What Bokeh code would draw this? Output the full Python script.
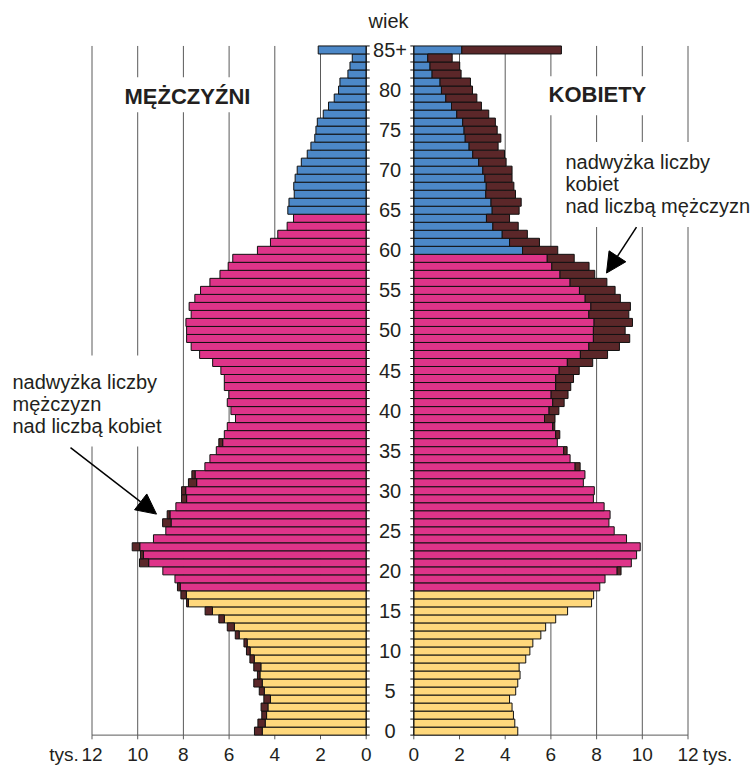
import numpy as np
from bokeh.plotting import figure
from bokeh.models import (ColumnDataSource, FixedTicker, CustomJSTickFormatter, Label,
                          Arrow, NormalHead, Range1d)
from bokeh.core.properties import value
from bokeh.embed import file_html
from bokeh.resources import INLINE

# ---------------- data (thousands of persons, age 0 .. 85+) ----------------
ages = list(range(86))
age_tick_values = [0, 5, 10, 15, 20, 25, 30, 35, 40, 45, 50, 55, 60, 65, 70, 75, 80, 85]
age_tick_labels = ["0", "5", "10", "15", "20", "25", "30", "35", "40", "45", "50", "55",
                   "60", "65", "70", "75", "80", "85+"]

men = [4.89, 4.74, 4.57, 4.60, 4.48, 4.68, 4.92, 4.76, 4.92, 5.09,
       5.24, 5.35, 5.73, 6.08, 6.45, 7.05, 7.86, 8.11, 8.26, 8.37,
       8.90, 9.92, 9.88, 10.24, 9.31, 8.77, 8.91, 8.71, 8.33, 8.08,
       8.08, 7.78, 7.63, 7.06, 6.84, 6.56, 6.45, 6.21, 6.08, 5.72,
       5.92, 6.08, 6.01, 6.21, 6.21, 6.36, 6.72, 7.29, 7.66, 7.86,
       7.86, 7.89, 7.66, 7.75, 7.50, 7.25, 6.84, 6.40, 6.04, 5.84,
       4.76, 4.19, 3.87, 3.46, 3.18, 3.43, 3.38, 3.15, 3.17, 3.11,
       3.02, 2.84, 2.58, 2.42, 2.25, 2.20, 2.14, 1.88, 1.65, 1.40,
       1.21, 1.15, 0.80, 0.71, 0.61, 2.10]

women = [4.55, 4.42, 4.36, 4.30, 4.19, 4.46, 4.55, 4.65, 4.61, 4.90,
         5.08, 5.21, 5.56, 5.77, 6.21, 6.73, 7.78, 7.87, 8.14, 8.37,
         9.07, 9.52, 9.75, 9.91, 9.31, 8.77, 8.54, 8.59, 8.33, 7.86,
         7.90, 7.42, 7.49, 7.28, 6.84, 6.71, 6.28, 6.39, 6.17, 6.18,
         6.35, 6.58, 6.75, 6.87, 6.99, 7.24, 7.83, 8.48, 9.00, 9.45,
         9.25, 9.57, 9.41, 9.48, 9.04, 8.81, 8.45, 7.92, 7.67, 7.02,
         6.30, 5.50, 4.97, 4.57, 4.19, 4.61, 4.70, 4.45, 4.38, 4.30,
         4.30, 4.04, 3.97, 3.69, 3.81, 3.65, 3.57, 3.28, 2.96, 2.76,
         2.57, 2.48, 2.07, 2.01, 1.68, 6.46]

x_tick_values = [0, 2, 4, 6, 8, 10, 12]
unit_label = "tys."
youth_max_age = 17
men_retire_age = 65
women_retire_age = 60

# ---------------- styling / layout ----------------
YELLOW = "#FFD87C"
PINK = "#DE3489"
BLUE = "#4C88C8"
BROWN = "#5B2729"
GRID = "#5a5a5a"
EDGE = "#111111"
TXT = "#231f20"
FONT = "Liberation Sans"

W, HGT = 755, 767
PX = 22.85            # pixels per thousand
CX = 389.5            # page x of the centre of the age column
H = 23.8 / PX         # half of the central gap, in data units
S = 8.035             # pixels per year of age
BOTTOM = 26
FRAME_H = HGT - BOTTOM
AXIS_Y = 736.6        # page y of the base line
Y0 = -0.5 - (FRAME_H - AXIS_Y) / S
Y1 = Y0 + FRAME_H / S


def dx(page_x):
    return (page_x - CX) / PX


def dy(page_y):
    return Y1 - page_y / S


p = figure(width=W, height=HGT, output_backend="svg", toolbar_location=None,
           x_range=Range1d(dx(0), dx(W)), y_range=Range1d(Y0, Y1),
           y_axis_location=None, min_border_left=0, min_border_right=0,
           min_border_top=0, min_border_bottom=BOTTOM)
p.outline_line_color = None
p.grid.visible = False
p.background_fill_color = "white"

a = np.array(ages)
m = np.array(men)
w = np.array(women)
lo = np.minimum(m, w)

# vertical grid lines
gx = [-(H + t) for t in x_tick_values[1:]] + [H + t for t in x_tick_values[1:]]
p.segment(x0=gx, x1=gx, y0=[-0.5] * len(gx), y1=[85.5] * len(gx),
          line_color=GRID, line_width=1)

# axis base lines and their ticks
p.segment(x0=[-(H + 12), H], x1=[-H, H + 12], y0=[-0.5, -0.5], y1=[-0.5, -0.5],
          line_color=GRID, line_width=1)
tx = [-(H + t) for t in x_tick_values] + [H + t for t in x_tick_values]
p.segment(x0=tx, x1=tx, y0=[-0.5] * len(tx), y1=[-0.5 - 4.5 / S] * len(tx),
          line_color=GRID, line_width=1)

# bars
men_col = [YELLOW if v <= youth_max_age else PINK if v < men_retire_age else BLUE for v in ages]
wom_col = [YELLOW if v <= youth_max_age else PINK if v < women_retire_age else BLUE for v in ages]

src_mc = ColumnDataSource(dict(y=a, left=-(H + lo), right=np.full(len(a), -H), color=men_col))
src_wc = ColumnDataSource(dict(y=a, left=np.full(len(a), H), right=H + lo, color=wom_col))
mm = m > w
wm = w > m
src_mb = ColumnDataSource(dict(y=a[mm], left=-(H + m[mm]), right=-(H + lo[mm])))
src_wb = ColumnDataSource(dict(y=a[wm], left=H + lo[wm], right=H + w[wm]))

for src in (src_mc, src_wc):
    p.hbar(y="y", left="left", right="right", height=1, fill_color="color",
           line_color=EDGE, line_width=1, source=src)
for src in (src_mb, src_wb):
    p.hbar(y="y", left="left", right="right", height=1, fill_color=BROWN,
           line_color=EDGE, line_width=1, source=src)

# central age axis lines and ticks
bounds = np.arange(-0.5, 86, 1.0)
tl = 3.5 / PX
p.segment(x0=[-H, H], x1=[-H, H], y0=[-0.5, -0.5], y1=[85.5, 85.5], line_color=EDGE)
p.segment(x0=np.full(len(bounds), -H), x1=np.full(len(bounds), -H + tl), y0=bounds, y1=bounds,
          line_color=EDGE)
p.segment(x0=np.full(len(bounds), H - tl), x1=np.full(len(bounds), H), y0=bounds, y1=bounds,
          line_color=EDGE)
p.text(x=[0] * len(age_tick_values), y=age_tick_values, text=age_tick_labels,
       text_font=value(FONT), text_font_size="20px", text_align="center",
       text_baseline="middle", text_color=TXT)

# bottom axis: numeric labels plus the unit word at both ends
unit_pos = [dx(63.5), dx(717)]
ax = p.xaxis[0]
ax.ticker = FixedTicker(ticks=[unit_pos[0]] + tx + [unit_pos[1]])
ax.formatter = CustomJSTickFormatter(
    args=dict(h=H, top=12, unit=unit_label),
    code="const v = Math.abs(tick) - h; return v > top + 0.5 ? unit : String(Math.round(v));")
ax.axis_line_color = None
ax.major_tick_line_color = None
ax.major_tick_out = 0
ax.major_tick_in = 0
ax.minor_tick_line_color = None
ax.major_label_standoff = 4
ax.major_label_text_font = FONT
ax.major_label_text_font_size = "19px"
ax.major_label_text_color = TXT

# titles and notes (anchor = top-left corner of the white box)
p.add_layout(Label(x=dx(388), y=dy(9.5), text="wiek", text_align="center",
                   text_baseline="top", text_font=FONT, text_font_size="20px",
                   text_color=TXT))
p.add_layout(Label(x=dx(113), y=dy(77), text="MĘŻCZYŹNI", text_align="left",
                   text_baseline="top", text_font=FONT, text_font_size="22px",
                   text_font_style="bold", text_color=TXT, background_fill_color="white",
                   padding=dict(left=11, right=12, top=7, bottom=3)))
p.add_layout(Label(x=dx(538), y=dy(76), text="KOBIETY", text_align="left",
                   text_baseline="top", text_font=FONT, text_font_size="22px",
                   text_font_style="bold", text_color=TXT, background_fill_color="white",
                   padding=dict(left=10, right=12, top=6, bottom=8)))
p.add_layout(Label(x=dx(5), y=dy(356), text="nadwyżka liczby\nmężczyzn\nnad liczbą kobiet",
                   text_align="left", text_baseline="top", text_font=FONT,
                   text_font_size="20px", text_color=TXT, text_line_height=1.0,
                   background_fill_color="white",
                   padding=dict(left=7, right=11, top=15, bottom=10)))
p.add_layout(Label(x=dx(557), y=dy(142), text="nadwyżka liczby\nkobiet\nnad liczbą mężczyzn",
                   text_align="left", text_baseline="top", text_font=FONT,
                   text_font_size="20px", text_color=TXT, text_line_height=1.0,
                   background_fill_color="white",
                   padding=dict(left=8, right=4, top=9, bottom=10)))

# arrows
p.add_layout(Arrow(x_start=dx(70), y_start=dy(448.3), x_end=dx(156), y_end=dy(515),
                   line_color="black", line_width=1.5,
                   end=NormalHead(size=20, fill_color="black", line_color="black")))
p.add_layout(Arrow(x_start=dx(636), y_start=dy(227.3), x_end=dx(606), y_end=dy(273.3),
                   line_color="black", line_width=1.5,
                   end=NormalHead(size=20, fill_color="black", line_color="black")))

open("out.html", "w").write(file_html(p, INLINE))
